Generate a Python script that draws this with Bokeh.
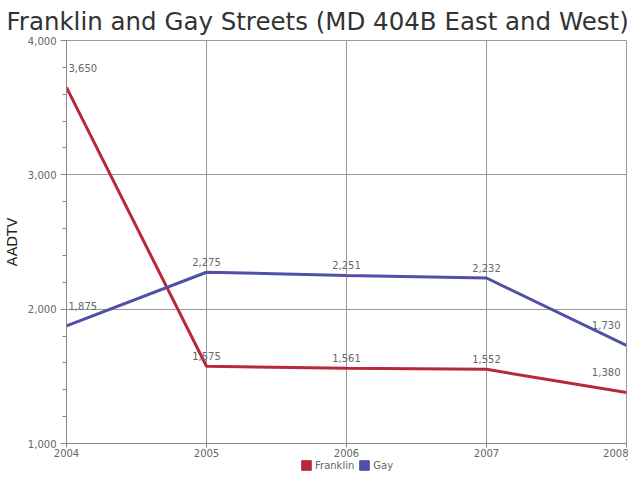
from bokeh.plotting import figure
from bokeh.layouts import column
from bokeh.models import ColumnDataSource, FixedTicker, Legend, LegendItem, Range1d, NumeralTickFormatter, Title
from bokeh.embed import file_html
from bokeh.resources import INLINE

years = [2004, 2005, 2006, 2007, 2008]
franklin = [3650, 1575, 1561, 1552, 1380]
gay = [1875, 2275, 2251, 2232, 1730]
series_names = ["Franklin", "Gay"]
series_colors = ["#b8283c", "#5050a8"]
y_ticks = [1000, 2000, 3000, 4000]

FONT = "DejaVu Sans"

p = figure(width=628, height=459, output_backend="svg", toolbar_location=None,
           x_range=Range1d(2004, 2008), y_range=Range1d(1000, 4000),
           min_border_left=60, min_border_right=2, min_border_top=4, min_border_bottom=10)
p.title = None
t = Title(text="Franklin and Gay Streets (MD 404B East and West)", text_font=FONT,
          text_font_size="24.5px", text_font_style="normal", text_color="#333333",
          offset=-60, standoff=9)
p.add_layout(t, "above")

p.outline_line_color = "#999999"
p.background_fill_color = "white"
p.border_fill_color = "white"

p.xaxis.ticker = FixedTicker(ticks=years)
p.yaxis.ticker = FixedTicker(ticks=y_ticks, minor_ticks=list(range(1000, 4001, 200)))
p.yaxis.formatter = NumeralTickFormatter(format="0,0")
p.xaxis.formatter = NumeralTickFormatter(format="0")
for ax in (p.xaxis[0], p.yaxis[0]):
    ax.axis_line_color = "#888888"
    ax.major_tick_line_color = "#888888"
    ax.minor_tick_line_color = "#888888"
    ax.major_label_text_font = FONT
    ax.major_label_text_font_size = "10px"
    ax.major_label_text_color = "#666666"
p.yaxis.major_tick_out = 6
p.yaxis.major_tick_in = 0
p.yaxis.minor_tick_out = 4
p.yaxis.minor_tick_in = 0
p.xaxis.major_tick_out = 4
p.xaxis.major_tick_in = 0
p.xaxis.minor_tick_line_color = None
p.xaxis.axis_label_standoff = 0
p.yaxis.axis_label = "AADTV"
p.yaxis.axis_label_text_font = FONT
p.yaxis.axis_label_text_font_size = "14px"
p.yaxis.axis_label_text_font_style = "normal"
p.yaxis.axis_label_text_color = "#222222"
p.yaxis.axis_label_standoff = 5
p.yaxis.major_label_standoff = 4
p.xaxis.major_label_standoff = 1

p.grid.grid_line_color = "#999999"
p.grid.grid_line_alpha = 1.0
p.xgrid.ticker = FixedTicker(ticks=years)
p.ygrid.ticker = FixedTicker(ticks=y_ticks)

for name, vals, col in zip(series_names, [franklin, gay], series_colors):
    labels = ["{:,}".format(v) for v in vals]
    aligns = ["left"] + ["center"] * (len(vals) - 2) + ["right"]
    xoff = [2] + [0] * (len(vals) - 2) + [-6]
    yoff = [-16] + [-6] * (len(vals) - 2) + [-16]
    src = ColumnDataSource(dict(x=years, y=vals, label=labels, align=aligns, xoff=xoff, yoff=yoff))
    p.line("x", "y", source=src, line_color=col, line_width=3)
    p.text("x", "y", text="label", source=src, text_align="align", x_offset="xoff",
           y_offset="yoff", text_baseline="bottom", text_font_size="10px",
           text_color="#666666", text_font={"value": FONT})

# legend strip below the chart (its proxy glyphs lie outside its view)
lg = figure(width=628, height=12, output_backend="svg", toolbar_location=None,
            x_range=Range1d(0, 1), y_range=Range1d(0, 1), min_border=0,
            x_axis_location=None, y_axis_location=None)
lg.grid.visible = False
lg.outline_line_color = None
lg.title = None
items = []
for name, vals, col in zip(series_names, [franklin, gay], series_colors):
    r = lg.block(x=years, y=vals, width=0.1, height=0.1, fill_color=col, line_color=col)
    items.append(LegendItem(label=name, renderers=[r]))
legend = Legend(items=items, orientation="horizontal", location=(234, 0), border_line_color=None,
                background_fill_alpha=0, label_text_font=FONT, label_text_font_size="10px",
                label_text_color="#666666", glyph_width=12, glyph_height=12,
                spacing=4, padding=0, label_standoff=3, margin=0, label_height=12)
lg.add_layout(legend, "center")

layout = column(p, lg, spacing=0)
open("out.html", "w").write(file_html(layout, INLINE))
